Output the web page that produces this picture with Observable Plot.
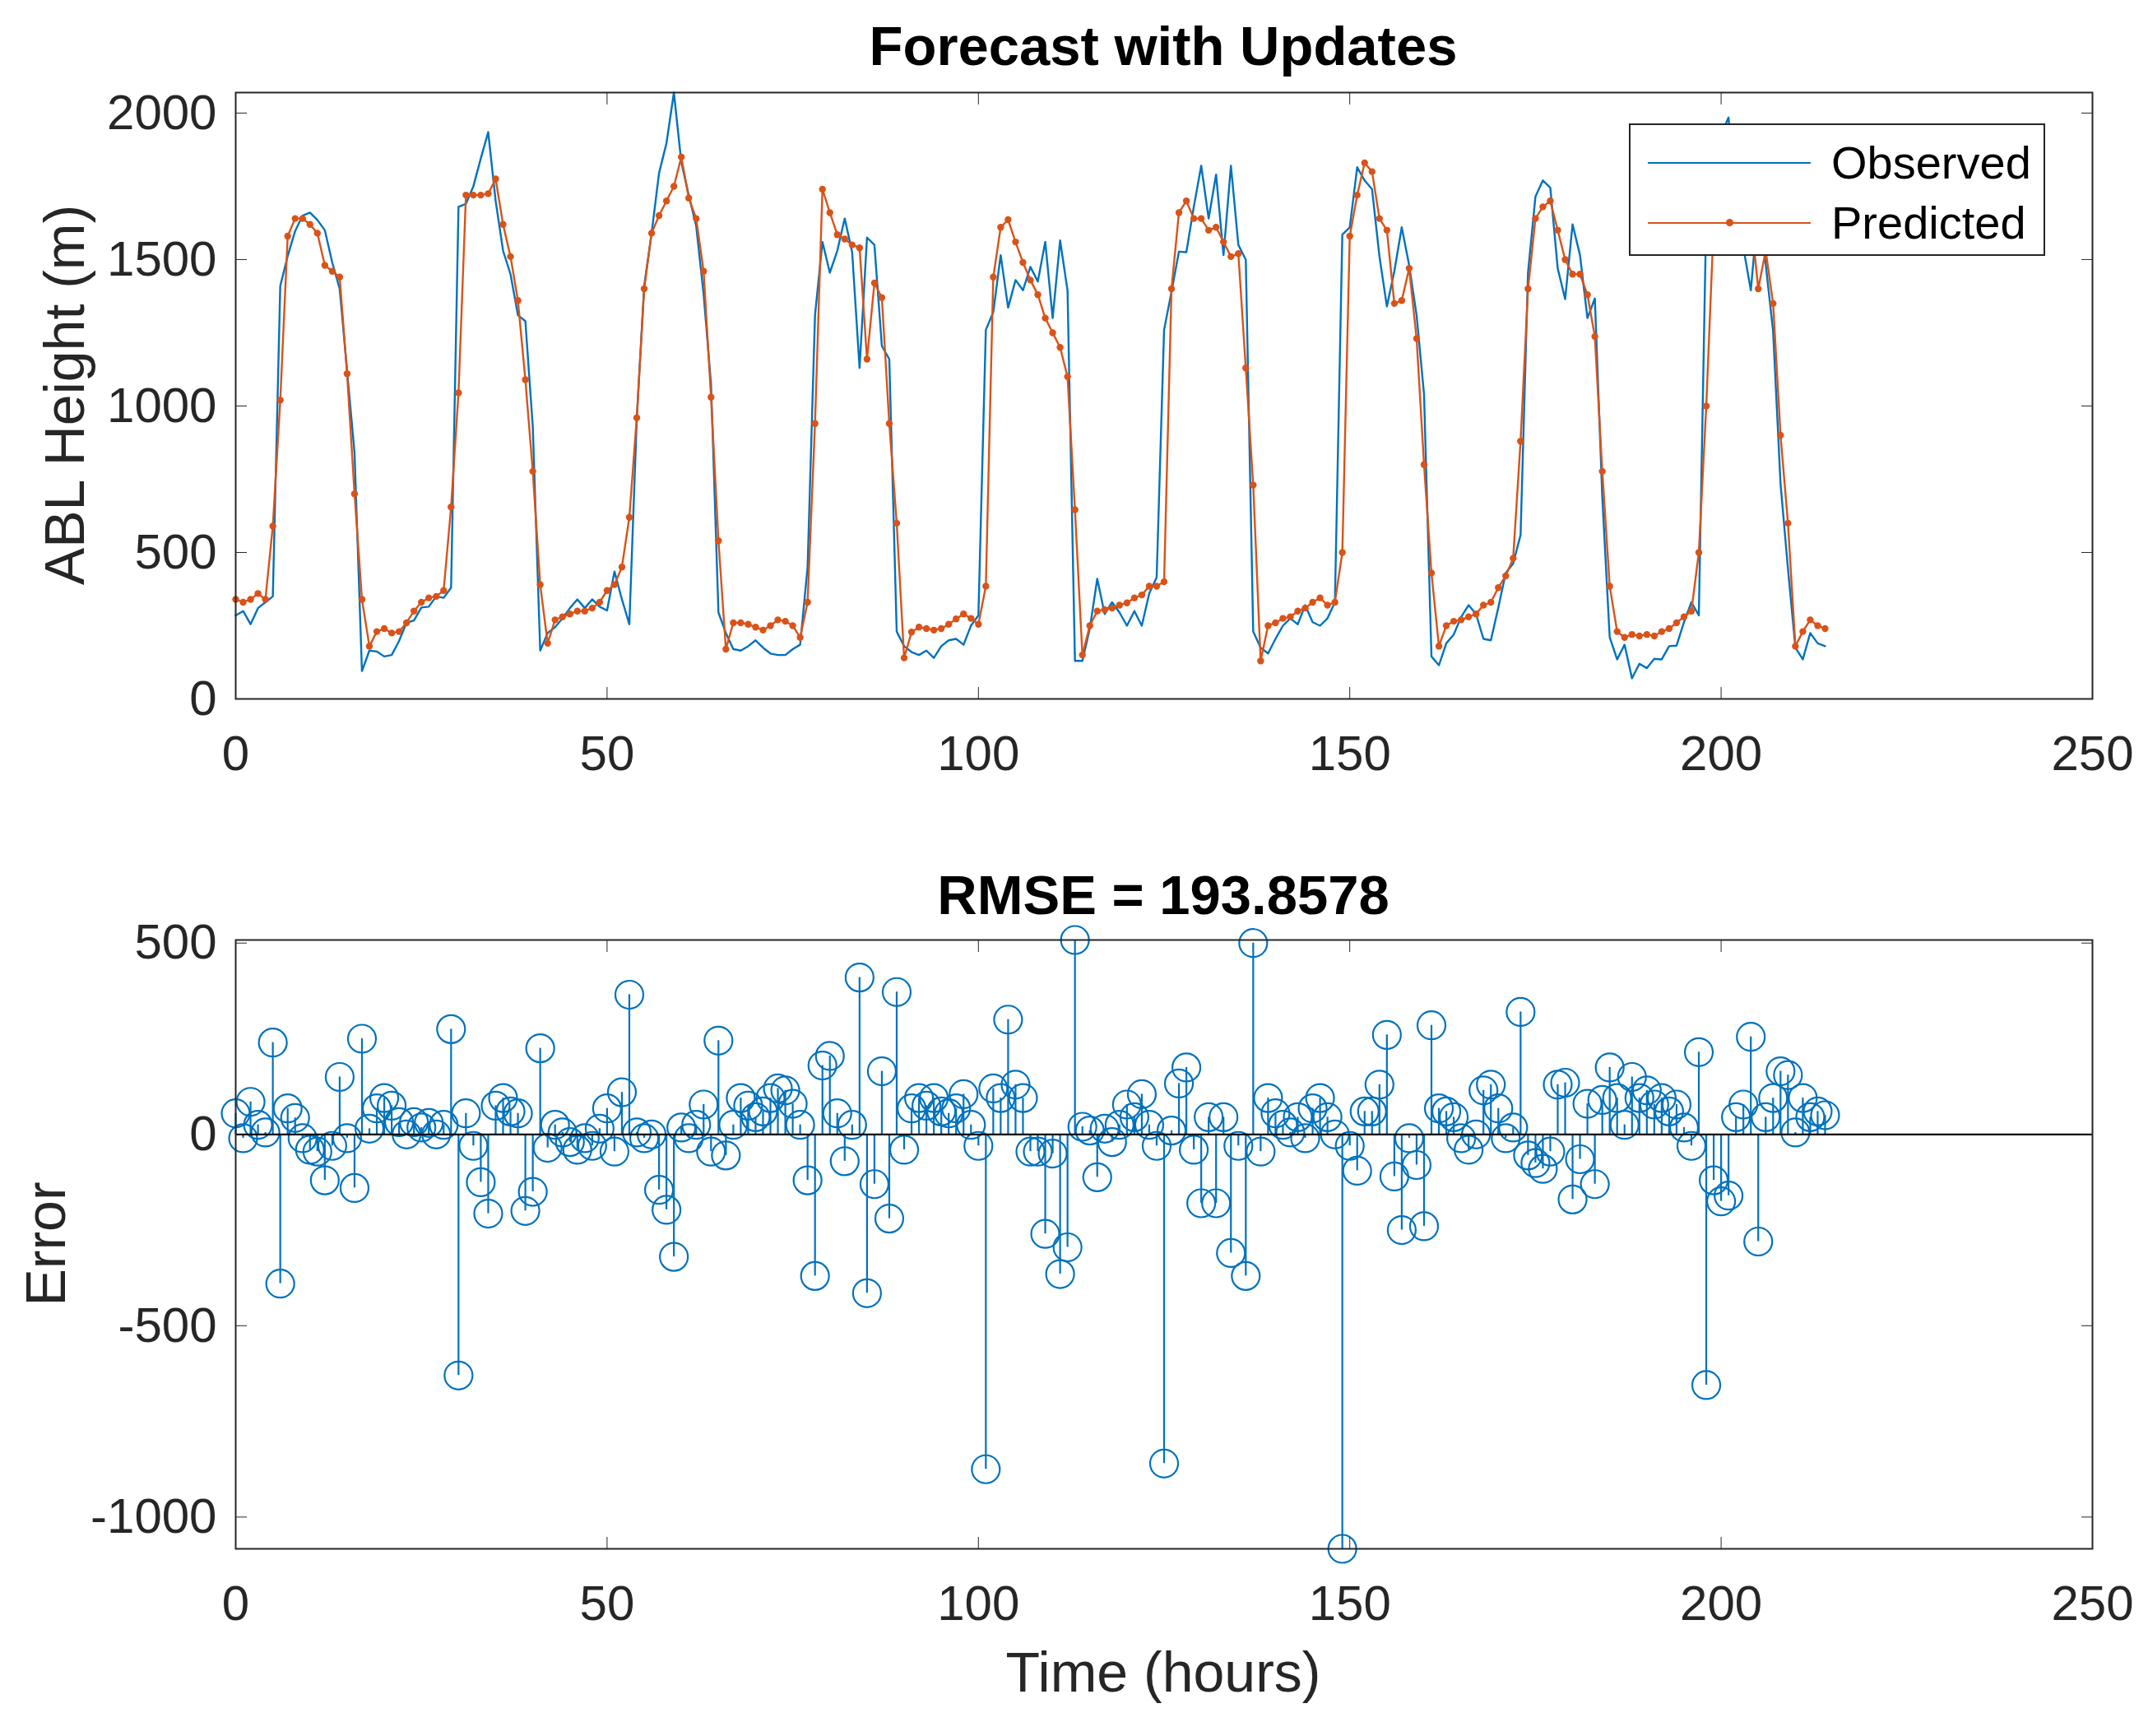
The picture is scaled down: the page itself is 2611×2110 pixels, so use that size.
<!DOCTYPE html>
<html>
<head>
<meta charset="utf-8">
<script src="https://cdn.jsdelivr.net/npm/d3@7"></script>
<script src="https://cdn.jsdelivr.net/npm/@observablehq/plot@0.6"></script>
<style>
  html, body { margin: 0; padding: 0; background: #fff; }
  #wrap { position: relative; width: 2611px; height: 2110px; background: #fff; font-family: "Liberation Sans", Arial, Helvetica, sans-serif; color: #262626; }
  .abs { position: absolute; white-space: nowrap; }
  .title { font-weight: bold; font-size: 67px; color: #000; transform: translateX(-50%); }
  .label { font-size: 68px; color: #262626; }
  .rot { transform: translate(-50%, -50%) rotate(-90deg); }
  #legend { position: absolute; left: 1980px; top: 150px; width: 502px; height: 157px; border: 2px solid #262626; background: #fff; }
  .lgline { position: absolute; left: 21px; width: 198px; height: 0; }
  .lgtext { position: absolute; left: 244px; font-size: 56px; color: #000; line-height: 56px; }
  .lgdot { position: absolute; width: 9px; height: 9px; border-radius: 50%; background: #D95319; }
</style>
</head>
<body>
<div id="wrap">
  <div id="topPanel" class="abs" style="left:0;top:0"></div>
  <div id="botPanel" class="abs" style="left:0;top:1000px"></div>
  <div class="abs title" style="left:1414px;top:17px">Forecast with Updates</div>
  <div class="abs title" style="left:1414px;top:1049px">RMSE = 193.8578</div>
  <div class="abs label" style="left:1414px;top:1993px;transform:translateX(-50%)">Time (hours)</div>
  <div class="abs label rot" style="left:78px;top:480px">ABL Height (m)</div>
  <div class="abs label rot" style="left:55px;top:1512px">Error</div>
  <div id="legend">
    <div class="lgline" style="top:45px;border-top:2.5px solid #0072BD"></div>
    <div class="lgtext" style="top:18px">Observed</div>
    <div class="lgline" style="top:118px;border-top:2.5px solid #D95319"></div>
    <div class="lgdot" style="left:116px;top:114px"></div>
    <div class="lgtext" style="top:91px">Predicted</div>
  </div>
</div>
<script>
// hours 0..214
const hours = d3.range(0, 215);

const observed = [
 285,300,255,310,330,350,1410,1512,1597,1650,1660,1635,1600,1490,1400,1120,840,95,165,162,
 145,150,198,260,268,312,315,350,345,380,1680,1690,1750,1845,1935,1700,1530,1450,1310,1290,
 930,165,225,245,275,310,340,310,340,315,302,435,340,255,955,1410,1590,1795,1897,2070,
 1832,1720,1615,1382,1075,295,225,170,165,180,200,175,155,150,150,170,185,450,1310,1560,
 1455,1530,1640,1525,1130,1575,1550,1205,1160,230,180,160,150,165,140,180,200,205,185,250,
 285,1260,1320,1515,1336,1430,1395,1475,1425,1560,1300,1565,1395,130,130,240,410,290,330,295,
 250,300,250,360,415,1260,1390,1527,1525,1680,1820,1640,1790,1515,1820,1550,1500,230,175,155,
 205,250,275,255,320,262,250,275,330,1585,1610,1815,1770,1740,1510,1340,1460,1610,1480,1310,
 1040,145,115,190,220,280,320,290,205,200,312,430,462,560,1455,1715,1770,1745,1470,1365,
 1620,1515,1300,1367,690,210,135,185,70,120,105,137,135,180,182,262,330,285,1655,1740,
 1925,1985,1680,1540,1395,1680,1485,1255,735,445,175,135,225,190,180
];

const predicted = [
 340,330,340,360,340,590,1020,1580,1640,1640,1620,1590,1480,1460,1440,1110,700,340,180,230,
 240,225,230,260,300,330,345,350,370,655,1045,1720,1720,1720,1725,1775,1620,1510,1360,1090,
 777,390,190,270,280,290,300,300,310,330,370,390,450,620,960,1400,1590,1650,1700,1750,
 1850,1710,1640,1460,1030,540,170,260,260,255,245,235,250,270,265,250,210,330,940,1740,
 1660,1585,1570,1550,1540,1160,1420,1370,940,600,140,228,245,240,235,240,255,273,290,275,
 255,385,1440,1610,1636,1560,1490,1430,1380,1300,1250,1200,1100,646,150,250,300,305,310,320,
 328,345,355,385,385,400,1400,1660,1700,1640,1640,1600,1610,1560,1510,1520,1130,730,130,250,
 260,275,280,300,310,330,345,320,330,500,1580,1720,1830,1800,1640,1600,1350,1360,1470,1230,
 800,430,180,250,265,270,280,290,320,330,380,420,480,880,1400,1640,1680,1700,1600,1500,
 1450,1450,1380,1237,777,385,230,210,220,215,220,215,230,240,260,280,300,500,1000,1620,
 1750,1810,1720,1620,1650,1400,1530,1350,900,600,180,230,270,250,240
];

const errors = [
 55,-10,85,25,5,240,-390,68,43,-10,-40,-45,-120,-30,150,-10,-140,250,15,68,
 95,75,32,0,32,18,30,0,25,275,-630,55,-30,-125,-207,75,95,60,55,-200,
 -150,225,-35,25,5,-20,-40,-10,-30,15,68,-45,110,365,5,-10,0,-145,-197,-320,
 18,-10,25,78,-45,245,-55,25,95,75,45,60,95,120,115,80,25,-120,-370,180,
 205,55,-70,25,410,-415,-130,165,-220,372,-40,68,95,75,95,60,55,68,105,25,
 -30,-875,120,95,300,130,95,-45,-45,-260,-50,-365,-295,508,20,10,-112,15,-20,25,
 78,45,105,25,-30,-860,10,133,175,-40,-180,45,-180,45,-310,-30,-370,500,-45,95,
 55,25,5,45,-10,68,95,45,0,-1083,-30,-95,60,60,130,260,-110,-250,-10,-80,
 -240,285,68,60,45,-10,-40,0,115,130,68,-10,18,320,-55,-75,-90,-45,130,135,
 -170,-65,80,-130,90,175,95,25,150,95,115,78,95,60,78,18,-30,215,-655,-120,
 -175,-160,45,78,255,-280,45,95,165,155,5,95,45,60,50
];

const xTicks = [0, 50, 100, 150, 200, 250];
const yTicksTop = [0, 500, 1000, 1500, 2000];
const yTicksBot = [-1000, -500, 0, 500];

(function () {
const rows = hours.map((h, i) => ({h, obs: observed[i], pred: predicted[i], err: errors[i]}));

const BLUE = "#0072BD", ORANGE = "#D95319", AX = "#262626";
const fmt = d => String(d);
const common = {
  width: 2611,
  marginLeft: 286,
  marginRight: 68,
  style: {fontFamily: "'Liberation Sans', Arial, Helvetica, sans-serif", fontSize: "60px", color: AX, background: "transparent", overflow: "visible"}
};
function axes(yTicks) {
  return [
    Plot.axisX({anchor: "bottom", ticks: xTicks, tickSize: -14, tickPadding: 58, tickFormat: fmt, label: null, fontSize: 60}),
    Plot.axisX({anchor: "top", ticks: xTicks, tickSize: -14, tickFormat: () => "", label: null}),
    Plot.axisY({anchor: "left", ticks: yTicks, tickSize: -14, tickPadding: 37, tickFormat: fmt, label: null, fontSize: 60}),
    Plot.axisY({anchor: "right", ticks: yTicks, tickSize: -14, tickFormat: () => "", label: null}),
    Plot.frame({stroke: AX, strokeWidth: 2})
  ];
}

const topChart = Plot.plot({
  ...common,
  height: 1000,
  marginTop: 112,
  marginBottom: 151,
  x: {domain: [0, 250]},
  y: {domain: [0, 2070]},
  marks: [
    Plot.line(rows, {x: "h", y: "obs", stroke: BLUE, strokeWidth: 2.4}),
    Plot.line(rows, {x: "h", y: "pred", stroke: ORANGE, strokeWidth: 2.4}),
    Plot.dot(rows, {x: "h", y: "pred", r: 4.2, fill: ORANGE, stroke: "none"}),
    ...axes(yTicksTop)
  ]
});
document.getElementById("topPanel").appendChild(topChart);

const botChart = Plot.plot({
  ...common,
  height: 1110,
  marginTop: 142,
  marginBottom: 228,
  x: {domain: [0, 250]},
  y: {domain: d3.extent(errors)},
  marks: [
    Plot.ruleX(rows, {x: "h", y1: 0, y2: "err", stroke: BLUE, strokeWidth: 2.2}),
    Plot.dot(rows, {x: "h", y: "err", r: 17, stroke: BLUE, strokeWidth: 2.2, fill: "none"}),
    Plot.ruleY([0], {stroke: "#000", strokeWidth: 2.2}),
    ...axes(yTicksBot)
  ]
});
document.getElementById("botPanel").appendChild(botChart);
})();
</script>
</body>
</html>
